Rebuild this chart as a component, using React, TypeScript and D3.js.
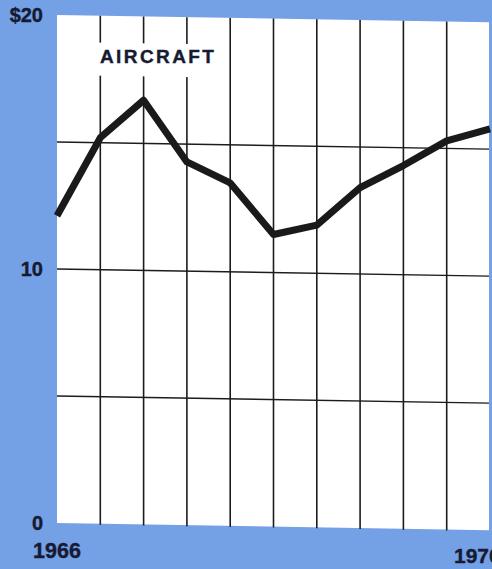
import React from "react";
import * as d3 from "d3";

// Aircraft spending, billions of dollars, sampled on an even grid from 1966 onward
const periods = [0, 1, 2, 3, 4, 5, 6, 7, 8, 9, 10];
const aircraft = [12.1, 15.2, 16.7, 14.3, 13.5, 11.5, 11.9, 13.4, 14.3, 15.3, 15.8];
const gridValues = [5, 10, 15];
const yTicks = [20, 10, 0];
const yTickLabels = ["$20", "10", "0"];
const yearLabels = ["1966", "1970"];
const seriesName = "AIRCRAFT";

const W = 492;
const H = 569;
const FONT = "'Liberation Sans', Arial, Helvetica, sans-serif";
const BLUE = "#74a1e6";
const INK = "#161b33";

export default function App() {
  const left = 57;
  const right = 490;
  const top = 15;
  const bottom = 523;

  const x = d3.scaleLinear().domain([0, 10]).range([left, right]);
  const y = d3.scaleLinear().domain([0, 20]).range([bottom, top]);

  const line = d3
    .line<number>()
    .x((_, i) => x(periods[i]))
    .y((d) => y(d))
    .curve(d3.curveLinear);

  // the printed grid sits with a slight downward tilt to the right
  const tilt = `translate(${left},0) skewY(0.95) translate(${-left},0)`;

  const labelStyle = { stroke: INK, strokeWidth: 0.4 };

  return (
    <svg
      width={W}
      height={H}
      viewBox={`0 0 ${W} ${H}`}
      style={{ position: "absolute", left: 0, top: 0, display: "block" }}
    >
      <rect x={0} y={0} width={W} height={H} fill={BLUE} />

      <g transform={tilt}>
        <rect x={left} y={top} width={489 - left} height={bottom - top} fill="#ffffff" />

        {gridValues.map((v) => (
          <line
            key={`h${v}`}
            x1={left}
            x2={489}
            y1={y(v)}
            y2={y(v)}
            stroke="#1c1c1c"
            strokeWidth={1.4}
          />
        ))}

        {periods.slice(1, 10).map((p) => (
          <line
            key={`v${p}`}
            x1={x(p)}
            x2={x(p)}
            y1={top}
            y2={bottom + 1}
            stroke="#1c1c1c"
            strokeWidth={1.6}
          />
        ))}

        <rect x={92} y={42} width={122} height={33} fill="#ffffff" />

        <path
          d={line(aircraft) ?? ""}
          fill="none"
          stroke="#1a1a1a"
          strokeWidth={7}
          strokeLinejoin="round"
          strokeLinecap="butt"
        />
      </g>

      <text
        x={100}
        y={63}
        fontFamily={FONT}
        fontWeight="bold"
        fontSize={19}
        letterSpacing={2.4}
        fill={INK}
        style={labelStyle}
      >
        {seriesName}
      </text>

      {yTicks.map((v, i) => (
        <text
          key={`yt${v}`}
          x={43}
          y={y(v) + 7}
          textAnchor="end"
          fontFamily={FONT}
          fontWeight="bold"
          fontSize={20}
          fill={INK}
          style={labelStyle}
        >
          {yTickLabels[i]}
        </text>
      ))}

      <text
        x={x(0)}
        y={558}
        textAnchor="middle"
        fontFamily={FONT}
        fontWeight="bold"
        fontSize={21.5}
        fill={INK}
        style={labelStyle}
      >
        {yearLabels[0]}
      </text>
      <text
        x={454}
        y={563}
        textAnchor="start"
        fontFamily={FONT}
        fontWeight="bold"
        fontSize={21}
        fill={INK}
        style={labelStyle}
      >
        {yearLabels[1]}
      </text>
    </svg>
  );
}
